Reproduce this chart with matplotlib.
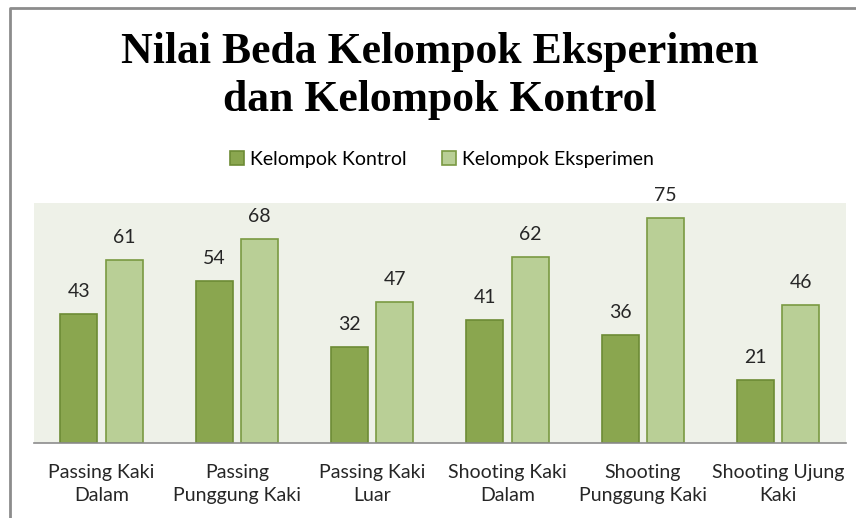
import numpy as np
import matplotlib.pyplot as plt
from matplotlib.lines import Line2D

categories = ['Passing Kaki\nDalam', 'Passing\nPunggung Kaki', 'Passing Kaki\nLuar',
              'Shooting Kaki\nDalam', 'Shooting\nPunggung Kaki', 'Shooting Ujung\nKaki']
kontrol = [43, 54, 32, 41, 36, 21]
eksperimen = [61, 68, 47, 62, 75, 46]

fig = plt.figure(figsize=(8.56, 5.18), dpi=100)
ax = fig.add_axes([0.0397, 0.1448, 0.9483, 0.4633])
ax.set_facecolor('#eef1e8')

x = np.arange(len(categories))
w = 0.273
off = 0.168
b1 = ax.bar(x - off, kontrol, w, color='#8aa64f', edgecolor='#6d8b35', linewidth=1.2,
            label='Kelompok Kontrol')
b2 = ax.bar(x + off, eksperimen, w, color='#b9cf96', edgecolor='#7a9a42', linewidth=1.2,
            label='Kelompok Eksperimen')
for bars in (b1, b2):
    ax.bar_label(bars, padding=10, fontsize=14, family='Lato', color='#262626')

ax.set_xlim(-0.5, len(categories) - 0.5)
ax.set_ylim(0, 80)
ax.set_yticks([])
ax.set_xticks(x)
ax.set_xticklabels(categories, fontsize=14, family='Lato', color='#262626', linespacing=1.45)
ax.tick_params(axis='x', length=0, pad=15)
for s in ['top', 'left', 'right']:
    ax.spines[s].set_visible(False)
ax.spines['bottom'].set_color('#8c8c8c')
ax.spines['bottom'].set_linewidth(1.2)

fig.text(0.514, 0.853, 'Nilai Beda Kelompok Eksperimen\ndan Kelompok Kontrol', ha='center',
         va='center', fontsize=31.5, fontweight='bold', family='Liberation Serif', linespacing=1.26)

fig.legend(handles=[b1, b2], loc='center', bbox_to_anchor=(0.516, 0.692), ncol=2, frameon=False,
           prop={'family': 'Lato', 'size': 14}, handlelength=0.75, handleheight=0.75,
           handletextpad=0.3, columnspacing=1.8)

fig.add_artist(Line2D([0.012, 0.012, 1.0], [0.0, 0.985, 0.985], transform=fig.transFigure,
                      color='#8c8c8c', linewidth=2))

fig.savefig('out.png', dpi=100)
